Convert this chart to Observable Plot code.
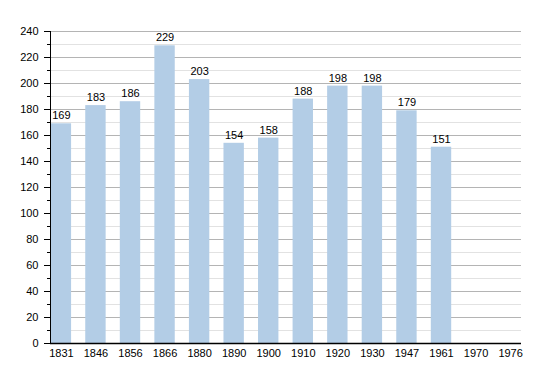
<!DOCTYPE html>
<html><head><meta charset="utf-8">
<script src="https://cdn.jsdelivr.net/npm/d3@7"></script>
<script src="https://cdn.jsdelivr.net/npm/@observablehq/plot@0.6"></script>
<style>body{margin:0;background:#fff}</style>
</head><body><div id="chart"></div>
<script>
const years = ["1831","1846","1856","1866","1880","1890","1900","1910","1920","1930","1947","1961","1970","1976"];
const population = [169,183,186,229,203,154,158,188,198,198,179,151,null,null];
const majorTicks = d3.range(0, 241, 20);
const minorTicks = d3.range(10, 240, 20);

const data = years.map((y,i)=>({year:y, value:population[i]}));
const bars = data.filter(d=>d.value!=null);

const chart = Plot.plot({
  width: 550, height: 373,
  marginLeft: 50, marginRight: 29, marginTop: 31, marginBottom: 30,
  style: {fontFamily: "'Liberation Sans', Arial, sans-serif", fontSize: "11px", color: "#000", background: "#fff"},
  x: {domain: years, padding: 0.02, paddingInner: 0.41, round: false, label: null},
  y: {domain: [0, 240], label: null},
  marks: [
    Plot.ruleY(minorTicks, {stroke: "#e2e2e2", strokeWidth: 1}),
    Plot.ruleY(majorTicks.filter(v=>v>0), {stroke: "#b4b4b4", strokeWidth: 1}),
    Plot.barY(bars, {x: "year", y: "value", fill: "#b3cde6"}),
    Plot.text(bars, {x: "year", y: "value", text: d=>String(d.value), dy: -8, fill: "#000", fontSize: 11}),
    Plot.axisY({ticks: majorTicks, tickSize: 6, tickPadding: 6, stroke: "#000", fill: "#000", label: null}),
    Plot.axisY({ticks: minorTicks, tickSize: 3, text: null, stroke: "#000", label: null}),
    Plot.axisX({tickSize: 0, tickPadding: 6, fill: "#000", label: null}),
    Plot.frame({anchor: "left", stroke: "#000"}),
    Plot.ruleY([0], {stroke: "#000", strokeWidth: 1.5})
  ]
});
document.getElementById("chart").appendChild(chart);
</script></body></html>
